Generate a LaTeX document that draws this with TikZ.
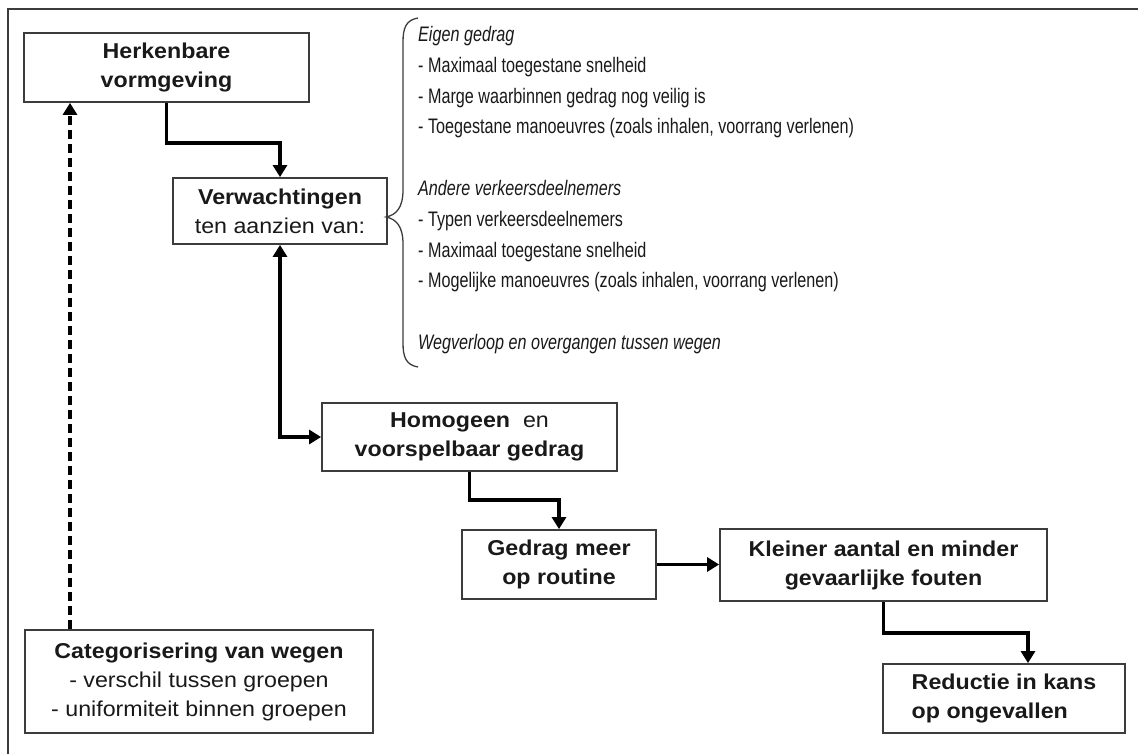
\documentclass[tikz,border=0pt]{standalone}
\usepackage{fontspec}
\setmainfont{Liberation Sans}
\newfontfamily\boxfont{Liberation Sans}[FakeStretch=1.08]
\newfontfamily\listfont{Liberation Sans}[FakeStretch=0.77]
\usepackage{tikz}
\usetikzlibrary{arrows.meta,positioning,calc}
\definecolor{framegray}{RGB}{60,60,60}
\definecolor{textdark}{RGB}{25,25,25}

\tikzset{
  blok/.style={draw=framegray, line width=1.8pt, fill=white, align=center, inner sep=2pt,
    font=\boxfont\fontsize{21.5}{29}\selectfont, text=textdark},
  flow/.style={line width=3.8pt, black},
}

\begin{document}
\begin{tikzpicture}[x=1pt, y=-1pt, >={Triangle[length=12pt,width=14pt]}]
    \useasboundingbox (0,0) rectangle (1138,754);
    \clip (0,0) rectangle (1138,754);
    % outer frame
    \draw[framegray, line width=1.8pt] (8,9) rectangle (1170,790);

    % Herkenbare vormgeving
    \node[blok, minimum width=285pt, minimum height=69pt] (herk) at (166.5,67.5) {\textbf{Herkenbare}\\\textbf{vormgeving}};
    % Verwachtingen
    \node[blok, minimum width=214pt, minimum height=66pt] (verw) at (280,211) {\textbf{Verwachtingen}\\ten aanzien van:};
    % Homogeen gedrag
    \node[blok, minimum width=295pt, minimum height=68pt] (homog) at (469.5,437) {\textbf{Homogeen}\ \ en\\\textbf{voorspelbaar gedrag}};
    % Routine
    \node[blok, minimum width=194pt, minimum height=69pt] (gedrag) at (559,564.5) {\textbf{Gedrag meer}\\\textbf{op routine}};
    % Fouten
    \node[blok, minimum width=327pt, minimum height=72pt] (klein) at (883.5,565) {\textbf{Kleiner aantal en minder}\\\textbf{gevaarlijke fouten}};
    % Reductie
    \node[blok, align=left, minimum width=242pt, minimum height=69pt] (reductie) at (1004,698.5) {\textbf{Reductie in kans}\\\textbf{op ongevallen}};
    % Categorisering
    \node[blok, minimum width=348pt, minimum height=103pt] (categ) at (199,681.5) {\textbf{Categorisering van wegen}\\- verschil tussen groepen\\- uniformiteit binnen groepen};

    % brace + list
    \draw[framegray, line width=1.3pt] (418,18) .. controls (406,20) and (403,28) .. (403,42) -- (403,190)
        .. controls (403,208) and (396,215) .. (386,217) .. controls (396,219) and (403,226) .. (403,244)
        -- (403,343) .. controls (403,357) and (406,365) .. (418,367);
    \node[anchor=north west, align=left, inner sep=0pt, text=textdark,
          font=\listfont\fontsize{21}{30.8}\selectfont] (lijst) at (418,26)
        {\textit{Eigen gedrag}\\
         - Maximaal toegestane snelheid\\
         - Marge waarbinnen gedrag nog veilig is\\
         - Toegestane manoeuvres (zoals inhalen, voorrang verlenen)\\[30.8pt]
         \textit{Andere verkeersdeelnemers}\\
         - Typen verkeersdeelnemers\\
         - Maximaal toegestane snelheid\\
         - Mogelijke manoeuvres (zoals inhalen, voorrang verlenen)\\[30.8pt]
         \textit{Wegverloop en overgangen tussen wegen}};

    % Connectors
    \draw[flow, ->] (herk.south) -- ++(0,40) -| (verw.north);
    \draw[flow, <->] (verw.south) |- (homog.west);
    \draw[flow, ->] (homog.south) -- ++(0,28) -| (gedrag.north);
    \draw[flow, ->] (gedrag.east) -- (gedrag.east -| klein.west);
    \draw[flow, ->] (klein.south) -- ++(0,31) -| ($(reductie.north)+(24,0)$);
    \draw[flow, ->, dash pattern=on 9pt off 5pt] ($(categ.north)+(-129,0)$) -- ($(categ.north |- herk.south)+(-129,0)$);
\end{tikzpicture}
\end{document}
